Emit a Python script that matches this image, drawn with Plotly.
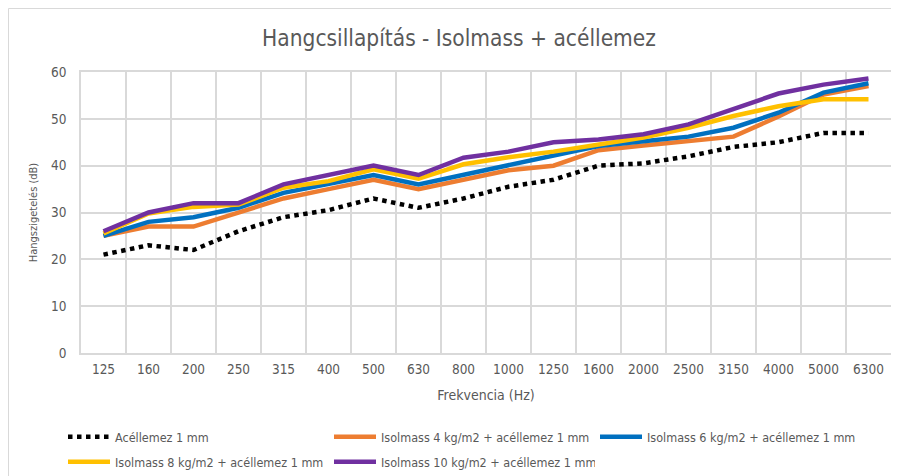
import plotly.graph_objects as go

freq = ["125", "160", "200", "250", "315", "400", "500", "630", "800", "1000",
        "1250", "1600", "2000", "2500", "3150", "4000", "5000", "6300"]
acel = [21, 23, 22, 26, 29, 30.5, 33, 31, 33, 35.5, 37, 40, 40.5, 42, 44, 45, 47, 47]
iso4 = [25, 27, 27, 30, 33, 35, 37, 35, 37, 39, 40, 43.3, 44.3, 45.2, 46.2, 50.5, 55.2, 57]
iso6 = [25, 28, 29, 31, 34.2, 36, 38, 36, 38, 40, 42, 44.2, 45.2, 46.2, 48.1, 51.3, 55.6, 57.6]
iso8 = [25.5, 29.8, 31.2, 31.7, 35.3, 36.7, 39.2, 37.2, 40.3, 41.8, 43, 44.5, 46, 48.1, 50.6, 52.7, 54.2, 54.2]
iso10 = [26, 30, 32, 32, 36, 38, 40, 38, 41.7, 43, 45, 45.6, 46.7, 48.8, 52, 55.4, 57.3, 58.6]

names = ["Acéllemez 1 mm",
         "Isolmass 4 kg/m2 + acéllemez 1 mm",
         "Isolmass 6 kg/m2 + acéllemez 1 mm",
         "Isolmass 8 kg/m2 + acéllemez 1 mm",
         "Isolmass 10 kg/m2 + acéllemez 1 mm"]
series = [acel, iso4, iso6, iso8, iso10]
colors = ["#000000", "#ED7D31", "#0070C0", "#FFC000", "#7030A0"]
dashes = ["dot", "solid", "solid", "solid", "solid"]
legend_ids = ["legend", "legend", "legend", "legend2", "legend2"]

FONT = "Liberation Sans Narrow, DejaVu Sans Condensed, Roboto, sans-serif"
GREY = "#595959"

W, H = 891, 468  # page body adds an 8px offset

fig = go.Figure()
for n, s, c, d, lg in zip(names, series, colors, dashes, legend_ids):
    fig.add_trace(go.Scatter(x=freq, y=s, name=n, mode="lines", legend=lg,
                             line=dict(color=c, width=4.5, dash=d)))

leg_common = dict(orientation="h", xref="container", yref="container",
                  xanchor="left", yanchor="middle",
                  entrywidth=209, entrywidthmode="pixels", itemwidth=42,
                  font=dict(family=FONT, size=12.5, color=GREY),
                  bgcolor="rgba(0,0,0,0)")

fig.update_layout(
    width=W, height=H,
    margin=dict(l=73, r=8, t=64, b=123, autoexpand=False),
    paper_bgcolor="white", plot_bgcolor="white",
    font=dict(family=FONT, color=GREY, size=12),
    title=dict(text="Hangcsillapítás - Isolmass + acéllemez",
               x=451 / W, xref="container", xanchor="center",
               y=1 - 30 / H, yref="container", yanchor="middle",
               font=dict(family=FONT, size=22.5, color=GREY)),
    xaxis=dict(type="category", range=[-0.5, 17.5], tickson="boundaries",
               automargin=False,
               showgrid=True, gridcolor="#d9d9d9", gridwidth=1.5,
               showline=True, linecolor="#d9d9d9", linewidth=1.5, mirror=True,
               ticks="", ticklabelstandoff=3,
               tickfont=dict(family=FONT, size=13.5, color=GREY),
               title=dict(text="Frekvencia (Hz)", standoff=14,
                          font=dict(family=FONT, size=14, color=GREY))),
    yaxis=dict(range=[0, 60], dtick=10, showgrid=True, gridcolor="#d9d9d9",
               gridwidth=1.5, zeroline=False, automargin=False,
               showline=True, linecolor="#d9d9d9", linewidth=1.5, mirror=True,
               ticks="", ticklabelstandoff=10,
               tickfont=dict(family=FONT, size=13.5, color=GREY),
               title=dict(text="Hangszigetelés (dB)", standoff=11,
                          font=dict(family=FONT, size=11, color=GREY))),
    legend=dict(x=55 / W, y=1 - 429 / H, **leg_common),
    legend2=dict(x=55 / W, y=1 - 454 / H, **leg_common),
    showlegend=True,
)

fig.add_shape(type="rect", xref="paper", yref="paper",
              x0=(0.5 - 73) / 810, x1=1.05, y0=-0.5, y1=(345 - 0.5) / 281,
              line=dict(color="#d9d9d9", width=1), fillcolor="rgba(0,0,0,0)",
              layer="below")

fig.write_html("out.html")
